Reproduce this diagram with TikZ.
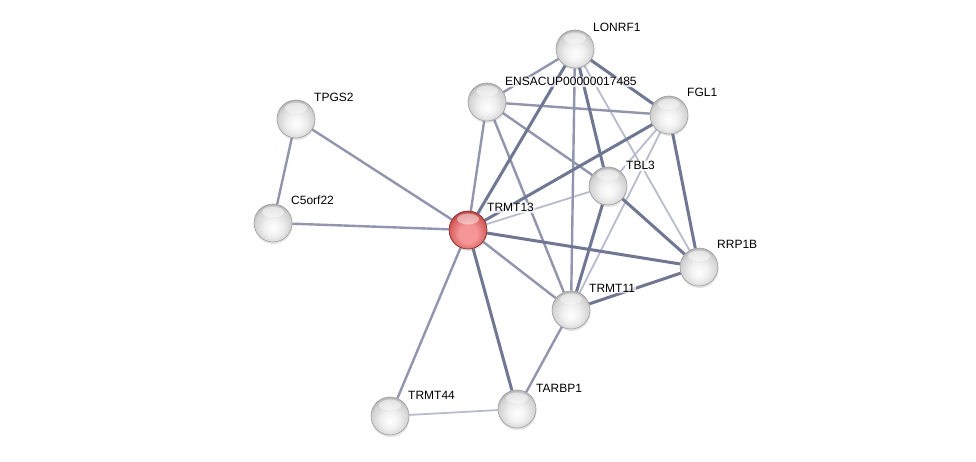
\documentclass[tikz,border=0pt]{standalone}
\usepackage{fontspec}
\setmainfont{Liberation Sans}
\usetikzlibrary{backgrounds,shadows}
\definecolor{estrong}{RGB}{112,119,146}
\definecolor{emed}{RGB}{145,150,174}
\definecolor{elight}{RGB}{184,188,206}
\definecolor{gmid}{RGB}{210,210,210}
\definecolor{gdark}{RGB}{150,150,150}
\definecolor{rlight}{RGB}{246,150,150}
\definecolor{rmid}{RGB}{214,96,96}
\definecolor{rdark}{RGB}{165,45,45}
\pgfdeclareradialshading{strball}{\pgfpoint{0bp}{-7bp}}{color(0bp)=(white); color(12bp)=(white!94!black); color(24bp)=(gmid); color(32bp)=(gdark); color(50bp)=(gdark)}
\pgfdeclareradialshading{strred}{\pgfpoint{0bp}{-7bp}}{color(0bp)=(rlight); color(12bp)=(rlight); color(24bp)=(rmid); color(32bp)=(rdark); color(50bp)=(rdark)}
\tikzset{
  ball/.style={circle, minimum size=38pt, inner sep=0pt, shading=strball,
    draw=gray!75, line width=0.6pt,
    drop shadow={shadow xshift=0.5pt, shadow yshift=-2pt, opacity=0.22},
    path picture={\fill[white,opacity=0.45] ([yshift=11pt]path picture bounding box.center) ellipse [x radius=11pt, y radius=5.5pt];}},
  redball/.style={ball, shading=strred, draw=rdark!80!black},
  lab/.style={anchor=base west, font=\fontsize{12}{14}\selectfont, inner sep=1pt,
    fill=white, fill opacity=0.75, text opacity=1, rounded corners=2pt},
  es/.style={draw=estrong, line width=3pt},
  em/.style={draw=emed, line width=2.4pt},
  el/.style={draw=elight, line width=1.8pt},
}
\begin{document}
\begin{tikzpicture}[x=1pt,y=-1pt]
\useasboundingbox (0,0) rectangle (976,462);
\node[ball] (LONRF1) at (575,49) {};
\node[ball] (ENSA) at (487,102) {};
\node[ball] (FGL1) at (669,115) {};
\node[ball] (TPGS2) at (296,119) {};
\node[ball] (TBL3) at (608,186) {};
\node[ball] (C5orf22) at (273,223) {};
\node[redball] (TRMT13) at (468,230) {};
\node[ball] (RRP1B) at (699,267) {};
\node[ball] (TRMT11) at (571,310) {};
\node[ball] (TARBP1) at (517,409) {};
\node[ball] (TRMT44) at (390,416) {};

\node[lab] (tLONRF1) at (592,32) {LONRF1};
\node[lab] (tENSA) at (504,86) {ENSACUP00000017485};
\node[lab] (tFGL1) at (686,97) {FGL1};
\node[lab] (tTPGS2) at (313,102) {TPGS2};
\node[lab] (tTBL3) at (625,170) {TBL3};
\node[lab] (tC5orf22) at (290,205) {C5orf22};
\node[lab] (tTRMT13) at (486,212) {TRMT13};
\node[lab] (tRRP1B) at (716,248) {RRP1B};
\node[lab] (tTRMT11) at (588,292) {TRMT11};
\node[lab] (tTARBP1) at (535,392) {TARBP1};
\node[lab] (tTRMT44) at (407,399) {TRMT44};

\begin{pgfonlayer}{background}
\fill[white] (0,0) rectangle (976,462);
% light
\path[el] (TRMT13) -- (TBL3);
\path[el] (TRMT44) -- (TARBP1);
\path[el] (LONRF1) -- (RRP1B);
\path[el] (FGL1) -- (TRMT11);
\path[el] (FGL1) -- (TBL3);
% medium
\path[em] (TPGS2) -- (C5orf22);
\path[em] (TPGS2) -- (TRMT13);
\path[em] (C5orf22) -- (TRMT13);
\path[em] (TRMT13) -- (TRMT44);
\path[em] (TRMT13) -- (ENSA);
\path[em] (TRMT13) -- (TRMT11);
\path[em] (ENSA) -- (FGL1);
\path[em] (ENSA) -- (TBL3);
\path[em] (ENSA) -- (TRMT11);
\path[em] (ENSA) -- (LONRF1);
\path[em] (LONRF1) -- (TRMT11);
\path[em] (TARBP1) -- (TRMT11);
% strong
\path[es] (TRMT13) -- (LONRF1);
\path[es] (TRMT13) -- (FGL1);
\path[es] (TRMT13) -- (RRP1B);
\path[es] (TRMT13) -- (TARBP1);
\path[es] (LONRF1) -- (TBL3);
\path[es] (LONRF1) -- (FGL1);
\path[es] (TBL3) -- (TRMT11);
\path[es] (TBL3) -- (RRP1B);
\path[es] (TRMT11) -- (RRP1B);
\path[es] (FGL1) -- (RRP1B);
\end{pgfonlayer}
\end{tikzpicture}
\end{document}
